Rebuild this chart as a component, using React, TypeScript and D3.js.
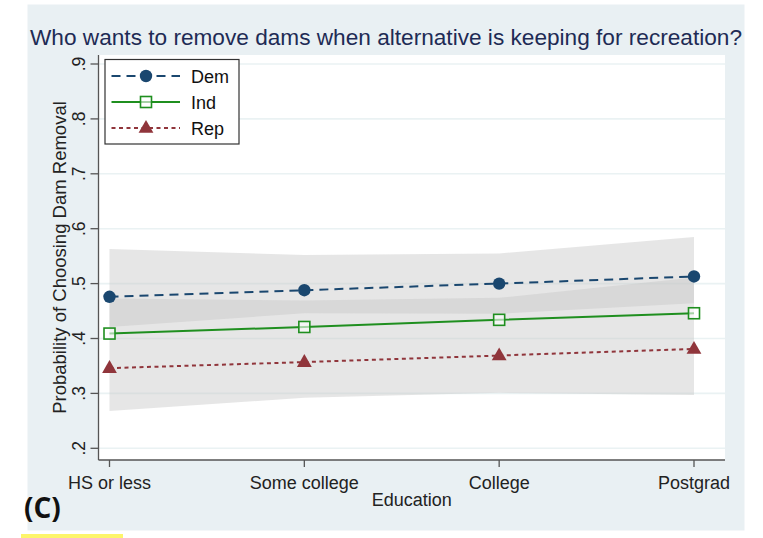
import React from "react";
import * as d3 from "d3";

const categories = ["HS or less", "Some college", "College", "Postgrad"];
const demValues = [0.476, 0.488, 0.5, 0.513];
const indValues = [0.409, 0.421, 0.434, 0.446];
const repValues = [0.346, 0.357, 0.369, 0.381];
const upperBandHigh = [0.563, 0.552, 0.555, 0.585];
const upperBandLow = [0.421, 0.446, 0.445, 0.464];
const lowerBandHigh = [0.473, 0.469, 0.474, 0.511];
const lowerBandLow = [0.268, 0.292, 0.301, 0.297];
const yTicks = [0.2, 0.3, 0.4, 0.5, 0.6, 0.7, 0.8, 0.9];
const yTickLabels = [".2", ".3", ".4", ".5", ".6", ".7", ".8", ".9"];
const seriesNames = ["Dem", "Ind", "Rep"];

const W = 763;
const H = 538;
const plotLeft = 98.5;
const plotRight = 725;
const plotTop = 55;
const plotBottom = 460;

const font = "'Liberation Sans', Arial, sans-serif";
const demColor = "#1a476f";
const indColor = "#1f8f1f";
const repColor = "#90353b";

export default function App() {
  const x = d3
    .scalePoint<string>()
    .domain(categories)
    .range([109.5, 694]);
  const y = d3.scaleLinear().domain([0.2, 0.9]).range([448.3, 64]);

  const band = (hi: number[], lo: number[]) =>
    d3
      .area<number>()
      .x((_, i) => x(categories[i]) as number)
      .y0((_, i) => y(lo[i]))
      .y1((_, i) => y(hi[i]))(hi) as string;

  const line = (vals: number[]) =>
    d3
      .line<number>()
      .x((_, i) => x(categories[i]) as number)
      .y((v) => y(v))(vals) as string;

  const tri = d3.symbol().type(d3.symbolTriangle).size(95)() as string;

  const drawMarker = (kind: string, cx: number, cy: number, key: string) => {
    if (kind === "Dem")
      return <circle key={key} cx={cx} cy={cy} r={6.2} fill={demColor} />;
    if (kind === "Ind")
      return (
        <rect
          key={key}
          x={cx - 5.5}
          y={cy - 5.5}
          width={11}
          height={11}
          fill="#ffffff"
          fillOpacity={0.6}
          stroke={indColor}
          strokeWidth={1.6}
        />
      );
    return (
      <path
        key={key}
        d={tri}
        transform={`translate(${cx},${cy + 0.5})`}
        fill={repColor}
      />
    );
  };

  const series = [
    { name: "Dem", vals: demValues, color: demColor, dash: "9,6" },
    { name: "Ind", vals: indValues, color: indColor, dash: "" },
    { name: "Rep", vals: repValues, color: repColor, dash: "4,3.5" },
  ];

  return (
    <svg
      width={W}
      height={H}
      style={{ position: "absolute", left: 0, top: 0 }}
      fontFamily={font}
    >
      <rect x={0} y={0} width={W} height={H} fill="#ffffff" />
      <rect x={27.5} y={4.5} width={717} height={526} fill="#e9f0f3" />
      <rect x={21} y={534} width={102} height={4} fill="#fdf56a" />
      <rect
        x={plotLeft}
        y={plotTop}
        width={plotRight - plotLeft}
        height={plotBottom - plotTop}
        fill="#ffffff"
      />
      {yTicks.map((t) => (
        <line
          key={"g" + t}
          x1={plotLeft}
          x2={plotRight}
          y1={y(t)}
          y2={y(t)}
          stroke="#eaf2f3"
          strokeWidth={1.6}
        />
      ))}
      <path d={band(upperBandHigh, upperBandLow)} fill="#c6c6c6" fillOpacity={0.44} />
      <path d={band(lowerBandHigh, lowerBandLow)} fill="#c6c6c6" fillOpacity={0.44} />
      {series.map((s) => (
        <path
          key={"l" + s.name}
          d={line(s.vals)}
          fill="none"
          stroke={s.color}
          strokeWidth={2}
          strokeDasharray={s.dash || undefined}
        />
      ))}
      {series.map((s) =>
        s.vals.map((v, i) =>
          drawMarker(s.name, x(categories[i]) as number, y(v), s.name + i)
        )
      )}
      {/* axes */}
      <line x1={plotLeft} x2={plotLeft} y1={plotTop} y2={plotBottom} stroke="#555" strokeWidth={1.3} />
      <line x1={plotLeft} x2={plotRight} y1={plotBottom} y2={plotBottom} stroke="#555" strokeWidth={1.3} />
      {yTicks.map((t, i) => (
        <g key={"yt" + t}>
          <line x1={plotLeft - 8} x2={plotLeft} y1={y(t)} y2={y(t)} stroke="#555" strokeWidth={1.3} />
          <text
            transform={`translate(${85},${y(t)}) rotate(-90)`}
            textAnchor="middle"
            fontSize={17.5}
            fill="#222"
          >
            {yTickLabels[i]}
          </text>
        </g>
      ))}
      {categories.map((c) => (
        <g key={"xt" + c}>
          <line
            x1={x(c) as number}
            x2={x(c) as number}
            y1={plotBottom}
            y2={plotBottom + 7}
            stroke="#555"
            strokeWidth={1.3}
          />
          <text x={x(c) as number} y={489} textAnchor="middle" fontSize={18} fill="#222">
            {c}
          </text>
        </g>
      ))}
      <text x={(plotLeft + plotRight) / 2} y={506} textAnchor="middle" fontSize={18} fill="#222">
        Education
      </text>
      <text
        transform={`translate(${66},${(plotTop + plotBottom) / 2}) rotate(-90)`}
        textAnchor="middle"
        fontSize={18.5}
        fill="#222"
      >
        Probability of Choosing Dam Removal
      </text>
      <text
        x={386}
        y={45}
        textAnchor="middle"
        fontSize={22}
        fill="#1e2b55"
        textLength={712}
        lengthAdjust="spacingAndGlyphs"
      >
        Who wants to remove dams when alternative is keeping for recreation?
      </text>
      <text x={24} y={518} fontSize={28} fontWeight="bold" fill="#111" fontFamily="'Open Sans', sans-serif">
        (C)
      </text>
      {/* legend */}
      <rect x={105} y={59.5} width={134} height={84.5} fill="#ffffff" stroke="#333" strokeWidth={1.2} />
      {series.map((s, i) => {
        const ly = 76 + i * 26;
        return (
          <g key={"lg" + s.name}>
            <line
              x1={111.5}
              x2={180}
              y1={ly}
              y2={ly}
              stroke={s.color}
              strokeWidth={2}
              strokeDasharray={s.dash || undefined}
            />
            {drawMarker(s.name, 146, ly, "lm" + i)}
            <text x={191} y={ly + 6.5} fontSize={18} fill="#111">
              {seriesNames[i]}
            </text>
          </g>
        );
      })}
    </svg>
  );
}
